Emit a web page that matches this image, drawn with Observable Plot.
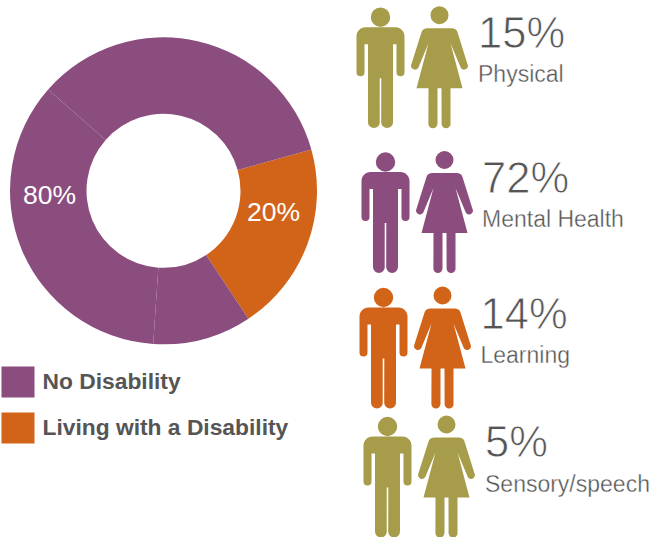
<!DOCTYPE html>
<html>
<head>
<meta charset="utf-8">
<script src="https://cdn.jsdelivr.net/npm/d3@7"></script>
<script src="https://cdn.jsdelivr.net/npm/@observablehq/plot@0.6"></script>
<style>
  html, body { margin: 0; padding: 0; background: #fff; }
  svg { display: block; }
</style>
</head>
<body>
<div id="chart"></div>
<script>
// Population split: the purple ring is made of three adjoining pieces that total 80%.
const sliceGroups = ["Living with a Disability", "No Disability", "No Disability", "No Disability"];
const sliceShares = [20, 10.4, 35.4, 34.2];
const legendNames = ["No Disability", "Living with a Disability"];
const legendTotals = [80, 20];

// Disability types among those living with a disability.
const categories = ["Physical", "Mental Health", "Learning", "Sensory/speech"];
const percents = [15, 72, 14, 5];

const palette = {purple: "#8b4d7e", orange: "#d2641a", olive: "#a69c49"};
const colorDomain = [...legendNames, ...categories];
const colorRange = [palette.purple, palette.orange, palette.olive, palette.purple, palette.orange, palette.olive];

// Page layout, in pixels.
const ring = {cx: 163.5, cy: 190.8, outer: 153.5, inner: 77, start: 74.4 * Math.PI / 180};
const rowIconX = [380, 385, 383, 387];
const rowIconY = [66.7, 211.5, 347, 476];
const rowTextX = [477.5, 481.5, 480, 484.5];
const rowValueY = [47.5, 192, 328, 456];
const rowLabelY = [81, 226, 362.5, 491];
const womanOffset = 59;
const legendMiddle = [381.5, 427.5];
const legendTextY = [388.5, 434.5];
const ringLabelX = [49, 273];
const ringLabelY = [203, 220];

const rows = categories.map((name, i) => ({name, percent: percents[i], i}));
const slices = sliceGroups.map((group, i) => ({group, share: sliceShares[i]}));
const legend = legendNames.map((name, i) => ({name, total: legendTotals[i], i}));

// Figure outlines are drawn around the origin, scaled by the dot radius.
const unit = (size) => Math.sqrt(size / Math.PI);

const swatch = {
  draw(c, size) {
    const k = unit(size);
    c.rect(-16.5 * k, -15.5 * k, 33 * k, 31 * k);
  }
};

const man = {
  draw(c, size) {
    const k = unit(size);
    const p = (x, y) => [x * k, y * k];
    const round = (cx, cy, r, a, b, ccw = false) => c.arc(cx * k, cy * k, r * k, a, b, ccw);
    c.moveTo(...p(0, -50));
    round(0, -50, 9.7, -Math.PI / 2, 1.5 * Math.PI);
    c.closePath();
    c.moveTo(...p(-15, -40));
    c.lineTo(...p(15, -40));
    c.bezierCurveTo(...p(20, -40), ...p(24, -36), ...p(24, -31));
    c.lineTo(...p(24, 5));
    round(20, 5, 4, 0, Math.PI);
    c.lineTo(...p(16, -23));
    c.lineTo(...p(12.5, -23));
    c.lineTo(...p(12.5, 55));
    round(6.6, 55, 5.9, 0, Math.PI);
    c.lineTo(...p(0.8, 11));
    c.lineTo(...p(-0.8, 11));
    c.lineTo(...p(-0.8, 55));
    round(-6.6, 55, 5.9, 0, Math.PI);
    c.lineTo(...p(-12.5, -23));
    c.lineTo(...p(-16, -23));
    c.lineTo(...p(-16, 5));
    round(-20, 5, 4, 0, Math.PI);
    c.lineTo(...p(-24, -31));
    c.bezierCurveTo(...p(-24, -36), ...p(-20, -40), ...p(-15, -40));
    c.closePath();
  }
};

const woman = {
  draw(c, size) {
    const k = unit(size);
    const p = (x, y) => [x * k, y * k];
    const round = (cx, cy, r, a, b, ccw = false) => c.arc(cx * k, cy * k, r * k, a, b, ccw);
    c.moveTo(...p(0, -52));
    round(0, -52, 9, -Math.PI / 2, 1.5 * Math.PI);
    c.closePath();
    c.moveTo(...p(-12, -39));
    c.lineTo(...p(12, -39));
    c.bezierCurveTo(...p(15, -39), ...p(17, -38), ...p(18, -35));
    c.lineTo(...p(28, -3));
    round(24.5, -1.5, 3.9, -0.4, 2.5);
    c.lineTo(...p(11, -24));
    c.lineTo(...p(23, 21));
    c.lineTo(...p(11, 21));
    c.lineTo(...p(11, 56.5));
    round(6.6, 56.5, 4.5, 0, Math.PI);
    c.lineTo(...p(2, 21));
    c.lineTo(...p(-2, 21));
    c.lineTo(...p(-2, 56.5));
    round(-6.6, 56.5, 4.5, 0, Math.PI);
    c.lineTo(...p(-11, 21));
    c.lineTo(...p(-23, 21));
    c.lineTo(...p(-11, -24));
    c.lineTo(...p(-21, 0));
    round(-24.5, -1.5, 3.9, 0.64, 3.54);
    c.lineTo(...p(-18, -35));
    c.bezierCurveTo(...p(-17, -38), ...p(-15, -39), ...p(-12, -39));
    c.closePath();
  }
};

// Draws each stacked share as an annular sector; the x scale maps percent to radians.
function renderRing(index, scales, values) {
  const arc = d3.arc().innerRadius(ring.inner).outerRadius(ring.outer);
  const g = d3.create("svg:g").attr("transform", `translate(${ring.cx},${ring.cy})`);
  for (const i of index) {
    g.append("path")
      .attr("d", arc({startAngle: values.x1[i], endAngle: values.x2[i]}))
      .attr("fill", values.fill[i]);
  }
  return g.node();
}

// Channels given in page pixels rather than through a scale.
const px = (accessor) => ({value: accessor, scale: null});

const sans = "'Liberation Sans', Arial, sans-serif";
const textColor = "#555555";

const chart = Plot.plot({
  width: 653,
  height: 537,
  margin: 0,
  x: {domain: [0, 100], range: [ring.start, ring.start + 2 * Math.PI], axis: null},
  y: {axis: null},
  color: {type: "ordinal", domain: colorDomain, range: colorRange},
  marks: [
    Plot.barX(slices, Plot.stackX({x: "share", fill: "group", render: renderRing})),
    Plot.text(legend, {
      x: px((d) => ringLabelX[d.i]),
      y: px((d) => ringLabelY[d.i]),
      text: (d) => `${d.total}%`,
      textAnchor: "middle",
      lineAnchor: "bottom",
      fontSize: 26.5,
      fontFamily: sans,
      fill: "white"
    }),
    Plot.dot(legend, {
      x: px(() => 17.5),
      y: px((d) => legendMiddle[d.i]),
      symbol: swatch,
      r: 1,
      fill: "name",
      stroke: null
    }),
    Plot.text(legend, {
      x: px(() => 42),
      y: px((d) => legendTextY[d.i]),
      text: "name",
      textAnchor: "start",
      lineAnchor: "bottom",
      fontSize: 22.8,
      fontWeight: 700,
      fontFamily: sans,
      fill: "#555555"
    }),
    Plot.dot(rows, {
      x: px((d) => rowIconX[d.i]),
      y: px((d) => rowIconY[d.i]),
      symbol: man,
      r: 1,
      fill: "name",
      stroke: null
    }),
    Plot.dot(rows, {
      x: px((d) => rowIconX[d.i] + womanOffset),
      y: px((d) => rowIconY[d.i]),
      symbol: woman,
      r: 1,
      fill: "name",
      stroke: null
    }),
    // A thin white outline painted over the glyphs gives the figures a lighter weight.
    Plot.text(rows, {
      x: px((d) => rowTextX[d.i]),
      y: px((d) => rowValueY[d.i]),
      text: (d) => `${d.percent}%`,
      textAnchor: "start",
      lineAnchor: "bottom",
      fontSize: 43.5,
      fontFamily: sans,
      fill: textColor,
      stroke: "white",
      strokeWidth: 0.8,
      paintOrder: "fill"
    }),
    Plot.text(rows, {
      x: px((d) => rowTextX[d.i]),
      y: px((d) => rowLabelY[d.i]),
      text: "name",
      textAnchor: "start",
      lineAnchor: "bottom",
      fontSize: 23,
      fontFamily: sans,
      fill: textColor,
      stroke: "white",
      strokeWidth: 0.35,
      paintOrder: "fill"
    })
  ]
});

document.getElementById("chart").appendChild(chart);
</script>
</body>
</html>
